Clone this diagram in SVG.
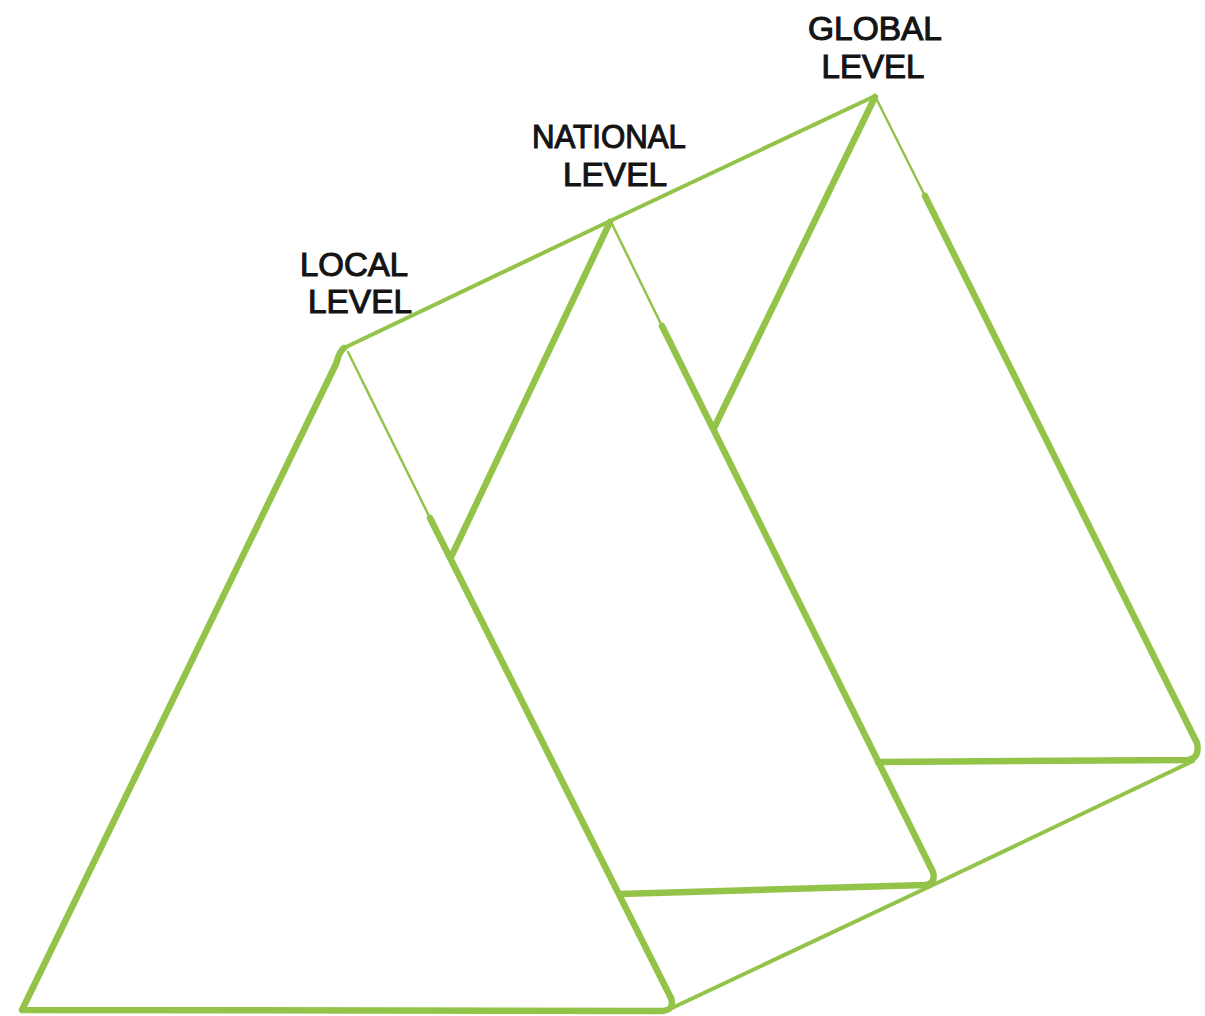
<svg xmlns="http://www.w3.org/2000/svg" width="1205" height="1016" viewBox="0 0 1205 1016">
<style>
.e{fill:none;stroke:#93c449;stroke-linecap:round;stroke-linejoin:round}
.t{stroke-width:6.5}
.m{stroke-width:4}
.h{stroke-width:2.5}
.lbl{font-family:"Liberation Sans",Arial,sans-serif;font-size:33px;fill:#141414;stroke:#141414;stroke-width:1.1;text-anchor:middle}
</style>
<rect width="1205" height="1016" fill="#ffffff"/>
<g id="connectors">
<path class="e m" d="M344 348 L610 221 L875 96"/>
<path class="e m" d="M672 1008 L935 884 L1193 761"/>
</g>
<g id="global-level">
<path class="e t" d="M875 97 L714 428"/>
<path class="e h" d="M877 100 L925 196"/>
<path class="e t" d="M925 196 L1197 743 Q1200 758 1188 760 L878 762"/>
<text class="lbl" x="875" y="40" textLength="134" lengthAdjust="spacingAndGlyphs">GLOBAL</text>
<text class="lbl" x="873" y="78" textLength="103" lengthAdjust="spacingAndGlyphs">LEVEL</text>
</g>
<g id="national-level">
<path class="e t" d="M610 222 L452 555"/>
<path class="e h" d="M612 224 L662 326"/>
<path class="e t" d="M662 326 L933 872 Q936 884 925 885 L620 894"/>
<text class="lbl" x="609" y="148" textLength="154" lengthAdjust="spacingAndGlyphs">NATIONAL</text>
<text class="lbl" x="615" y="186" textLength="104" lengthAdjust="spacingAndGlyphs">LEVEL</text>
</g>
<g id="local-level">
<path class="e t" d="M344 348 Q340 350 336 364 L22 1010 L662 1011 Q675 1010 671 998"/>
<path class="e h" d="M348 352 L430 518"/>
<path class="e t" d="M430 518 L671 998"/>
<text class="lbl" x="354" y="276" textLength="108" lengthAdjust="spacingAndGlyphs">LOCAL</text>
<text class="lbl" x="360" y="313" textLength="104" lengthAdjust="spacingAndGlyphs">LEVEL</text>
</g>
</svg>
